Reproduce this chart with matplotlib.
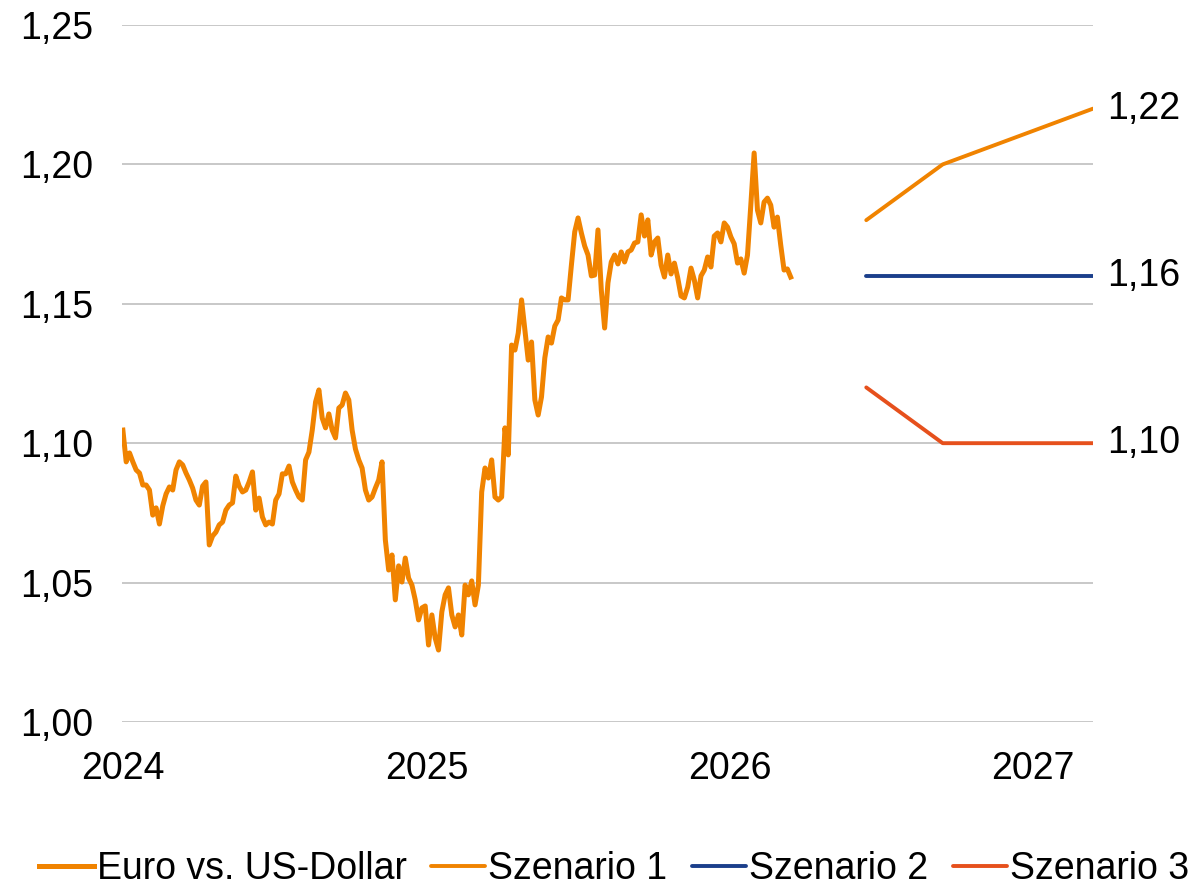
import numpy as np
import pandas as pd
import matplotlib
matplotlib.use("Agg")
import matplotlib.pyplot as plt
import matplotlib.dates as mdates

plt.rcParams['font.family'] = ['Liberation Sans', 'DejaVu Sans']

# EUR/USD history, one reading every 4 days from 2024-01-01
eurusd = [
    1.1047, 1.0933, 1.0965, 1.0933, 1.0904, 1.0893, 1.0850, 1.0850, 1.0832, 1.0742,
    1.0768, 1.0710, 1.0775, 1.0818, 1.0843, 1.0832, 1.0904, 1.0933, 1.0922, 1.0893,
    1.0868, 1.0839, 1.0796, 1.0778, 1.0846, 1.0861, 1.0635, 1.0667, 1.0681, 1.0707,
    1.0717, 1.0760, 1.0778, 1.0786, 1.0882, 1.0846, 1.0825, 1.0832, 1.0861, 1.0897,
    1.0760, 1.0803, 1.0735, 1.0707, 1.0717, 1.0710, 1.0796, 1.0818, 1.0890, 1.0890,
    1.0918, 1.0861, 1.0832, 1.0807, 1.0796, 1.0940, 1.0968, 1.1047, 1.1148, 1.1191,
    1.1090, 1.1055, 1.1105, 1.1047, 1.1019, 1.1126, 1.1137, 1.1180, 1.1155, 1.1047,
    1.0979, 1.0940, 1.0911, 1.0832, 1.0796, 1.0807, 1.0839, 1.0868, 1.0933, 1.0653,
    1.0545, 1.0599, 1.0438, 1.0560, 1.0502, 1.0588, 1.0516, 1.0491, 1.0438, 1.0366,
    1.0409, 1.0416, 1.0276, 1.0384, 1.0301, 1.0258, 1.0395, 1.0456, 1.0481, 1.0384,
    1.0341, 1.0384, 1.0312, 1.0491, 1.0456, 1.0506, 1.0420, 1.0491, 1.0825, 1.0911,
    1.0875, 1.0940, 1.0807, 1.0796, 1.0807, 1.1055, 1.0958, 1.1352, 1.1334, 1.1395,
    1.1514, 1.1406, 1.1298, 1.1363, 1.1155, 1.1101, 1.1166, 1.1306, 1.1381, 1.1359,
    1.1420, 1.1442, 1.1521, 1.1514, 1.1514, 1.1639, 1.1758, 1.1808, 1.1754, 1.1707,
    1.1675, 1.1600, 1.1603, 1.1765, 1.1549, 1.1413, 1.1575, 1.1650, 1.1675, 1.1643,
    1.1686, 1.1650, 1.1686, 1.1693, 1.1718, 1.1722, 1.1819, 1.1743, 1.1801, 1.1675,
    1.1722, 1.1736, 1.1639, 1.1596, 1.1675, 1.1607, 1.1646, 1.1593, 1.1528, 1.1521,
    1.1560, 1.1628, 1.1585, 1.1521, 1.1600, 1.1621, 1.1668, 1.1632, 1.1743, 1.1754,
    1.1722, 1.1790, 1.1775, 1.1740, 1.1715, 1.1646, 1.1661, 1.1610, 1.1675, 1.1854,
    1.2041, 1.1836, 1.1790, 1.1865, 1.1879, 1.1854, 1.1775, 1.1811, 1.1711, 1.1621,
    1.1625, 1.1596,
]
dates = pd.date_range('2024-01-01', periods=len(eurusd), freq='4D')

# scenarios
scen_dates = pd.to_datetime(['2026-06-14', '2026-09-14', '2027-03-14'])
szenario1 = [1.18, 1.20, 1.22]
szenario2 = [1.16, 1.16, 1.16]
szenario3 = [1.12, 1.10, 1.10]

orange = '#F08300'
blue = '#1B3F8B'
red = '#E6501C'

fig = plt.figure(figsize=(11.93, 8.90), dpi=100)
ax = fig.add_axes([0.1023, 0.1888, 0.8139, 0.7831])

ax.plot(dates, eurusd, color=orange, lw=3.6, label='Euro vs. US-Dollar', zorder=3)
ax.plot(scen_dates, szenario1, color=orange, lw=2.8, solid_capstyle='round', label='Szenario 1', zorder=3)
ax.plot(scen_dates, szenario2, color=blue, lw=2.8, solid_capstyle='round', label='Szenario 2', zorder=3)
ax.plot(scen_dates, szenario3, color=red, lw=2.8, solid_capstyle='round', label='Szenario 3', zorder=3)

for vals in (szenario1, szenario2, szenario3):
    ax.annotate(f'{vals[-1]:.2f}'.replace('.', ','), xy=(scen_dates[-1], vals[-1]),
                xytext=(10, 0), textcoords='offset points', va='center', ha='left',
                fontsize=27, annotation_clip=False)

ax.set_ylim(1.00, 1.25)
ax.set_yticks(np.arange(1.00, 1.2501, 0.05))
ax.yaxis.set_major_formatter(plt.FuncFormatter(lambda v, p: f'{v:.2f}'.replace('.', ',')))
ax.set_xlim(pd.Timestamp('2023-12-31'), pd.Timestamp('2027-03-14'))
ax.xaxis.set_major_locator(mdates.YearLocator())
ax.xaxis.set_major_formatter(mdates.DateFormatter('%Y'))

ax.grid(axis='y', color='#BFBFBF', lw=1.2)
ax.set_axisbelow(True)
for s in ax.spines.values():
    s.set_visible(False)
ax.tick_params(axis='both', length=0, labelsize=27)
ax.tick_params(axis='y', pad=21)
ax.tick_params(axis='x', pad=21)

fig.legend(loc='center', bbox_to_anchor=(0.515, 0.024), ncol=4, frameon=False,
           fontsize=27, handlelength=1.45, handletextpad=0.08, columnspacing=0.65,
           borderpad=0, borderaxespad=0)

fig.savefig('out.png', dpi=100)
